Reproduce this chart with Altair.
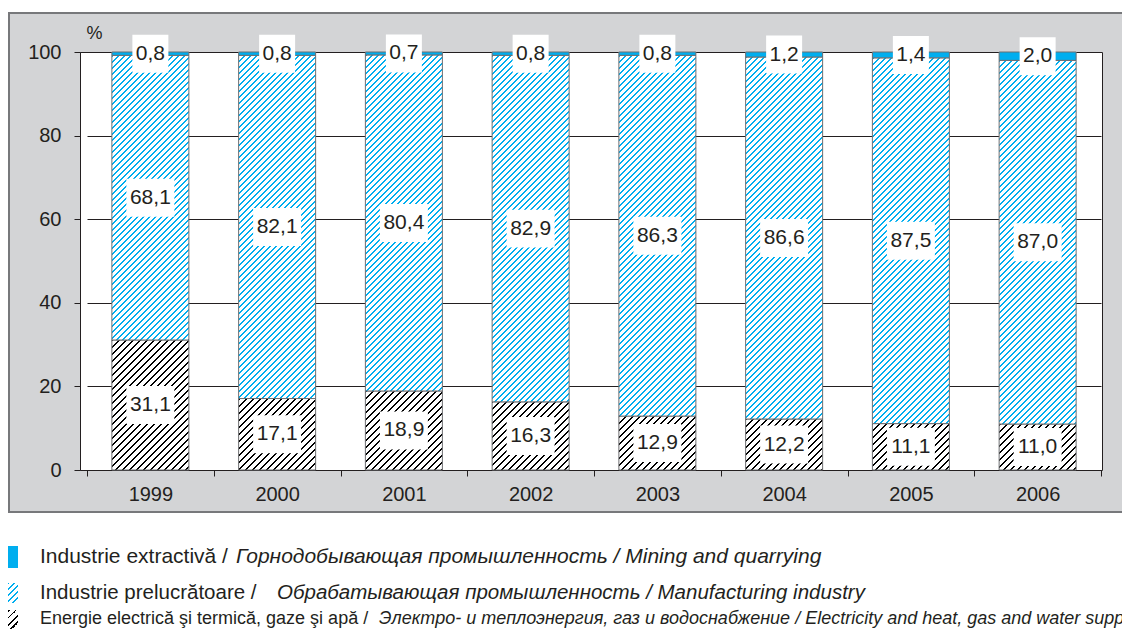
import altair as alt

# ---- data ----
years = ["1999", "2000", "2001", "2002", "2003", "2004", "2005", "2006"]
mining = [0.8, 0.8, 0.7, 0.8, 0.8, 1.2, 1.4, 2.0]
manufacturing = [68.1, 82.1, 80.4, 82.9, 86.3, 86.6, 87.5, 87.0]
energy = [31.1, 17.1, 18.9, 16.3, 12.9, 12.2, 11.1, 11.0]
y_ticks = [0, 20, 40, 60, 80, 100]
legend_ro = [
    "Industrie extractivă / ",
    "Industrie prelucrătoare / ",
    "Energie electrică şi termică, gaze şi apă / ",
]
legend_rest = [
    "Горнодобывающая промышленность / Mining and quarrying",
    "Обрабатывающая промышленность / Manufacturing industry",
    "Электро- и теплоэнергия, газ и водоснабжение / Electricity and heat, gas and water supply",
]

# ---- styling ----
W, H = 1022, 418
BAR = 77
BLUE = "#00aeef"
INK = "#231f20"
GRAY_BG = "#d3d4d6"
FONT = "Liberation Sans"


def hatch(w, h, color, period=6.0, thick=2.0, bg="white"):
    """Linear gradient with hard stops that looks like 45 degree '/' hatching."""
    L = w + h
    k = L / (w * w + h * h)
    stops = []
    n = int(L / period) + 2
    for i in range(n):
        a = min(i * period / L, 1.0)
        b = min((i * period + thick) / L, 1.0)
        c = min((i + 1) * period / L, 1.0)
        stops += [(a, color), (b, color), (b, bg), (c, bg)]
        if c >= 1.0:
            break
    return {
        "gradient": "linear",
        "x1": 0, "y1": 0, "x2": k * w, "y2": k * h,
        "stops": [{"offset": o, "color": col} for o, col in stops],
    }


def fmt(v):
    return f"{v:.1f}".replace(".", ",")


seg_records = []
lab_records = []
px = H / 100.0
for i, yr in enumerate(years):
    e, m, q = energy[i], manufacturing[i], mining[i]
    segs = [
        (0.0, e, lambda hh: hatch(BAR, hh, "#000000", period=7.0, thick=2.0), e),
        (e, e + m, lambda hh: hatch(BAR, hh, BLUE, period=6.0, thick=1.8), m),
        (e + m, e + m + q, lambda hh: BLUE, q),
    ]
    for y0, y1, gf, v in segs:
        seg_records.append({"year": yr, "y0": y0, "y1": y1, "grad": gf((y1 - y0) * px)})
        lab = fmt(v)
        box = "M-1,-0.79H1V0.79H-1Z" if len(lab) >= 4 else "M-0.75,-0.79H0.75V0.79H-0.75Z"
        lab_records.append({"year": yr, "mid": (y0 + y1) / 2, "lab": lab, "box": box})

xscale = alt.Scale(range=[7, 1021], paddingInner=0, paddingOuter=0)
yscale = alt.Scale(domain=[0, 100], nice=False)

xaxis = alt.Axis(
    title=None, labelAngle=0, labelFont=FONT, labelFontSize=20, labelColor=INK,
    labelPadding=8, tickSize=6, tickColor=INK, tickBand="extent", domain=False, grid=False,
)
yaxis = alt.Axis(
    values=y_ticks, format="d", labelFont=FONT, labelFontSize=20, labelColor=INK,
    labelPadding=13, tickSize=6, tickColor=INK, domainColor=INK, grid=True,
    gridColor=INK, gridOpacity=1, gridWidth=1,
    title="%", titleAngle=0, titleAlign="left", titleBaseline="middle",
    titleX=6, titleY=-19, titleFont=FONT, titleFontSize=18, titleFontWeight="normal",
    titleColor=INK,
)

one = alt.Data(values=[{"a": 0}])

# decorations: frame of the grey box and white areas outside it
white_top = alt.Chart(one).mark_rect(color="white").encode(
    x=alt.value(-72), x2=alt.value(1060), y=alt.value(-50), y2=alt.value(-40))
white_bottom = alt.Chart(one).mark_rect(color="white").encode(
    x=alt.value(-72), x2=alt.value(1060), y=alt.value(461), y2=alt.value(620))
border_top = alt.Chart(one).mark_rule(color="#77787b", strokeWidth=2).encode(
    x=alt.value(-72), x2=alt.value(1060), y=alt.value(-39))
border_bottom = alt.Chart(one).mark_rule(color="#77787b", strokeWidth=2).encode(
    x=alt.value(-72), x2=alt.value(1060), y=alt.value(460))
border_left = alt.Chart(one).mark_rule(color="#77787b", strokeWidth=2).encode(
    x=alt.value(-71), y=alt.value(-39), y2=alt.value(460))

bars = alt.Chart(alt.Data(values=seg_records)).mark_bar(
    size=BAR, stroke="#6d6e71", strokeWidth=1
).encode(
    x=alt.X("year:O", scale=xscale, axis=xaxis),
    y=alt.Y("y0:Q", scale=yscale, axis=yaxis),
    y2="y1:Q",
    fill=alt.Fill("grad:N", scale=None),
)

boxes = alt.Chart(alt.Data(values=lab_records)).mark_point(
    filled=True, color="white", opacity=1, strokeWidth=0, size=2304
).encode(
    x="year:O", y="mid:Q", shape=alt.Shape("box:N", scale=None)
)

labels = alt.Chart(alt.Data(values=lab_records)).mark_text(
    font=FONT, fontSize=21, color=INK, baseline="middle", align="center"
).encode(x="year:O", y="mid:Q", text="lab:N")

# manual legend
leg_y = [505, 541, 567]
sq_y = [(494, 516), (531, 551), (558, 577)]
ital_x = [156, 197, 299]
leg_size = [21, 20.5, 18]
sq_fill = [BLUE, hatch(10, 20, BLUE, 6.0, 1.8), hatch(10, 19, "#000000", 7.0, 2.0)]

legend_layers = []
for i in range(3):
    legend_layers.append(
        alt.Chart(one).mark_rect().encode(
            x=alt.value(-72), x2=alt.value(-62),
            y=alt.value(sq_y[i][0]), y2=alt.value(sq_y[i][1]),
            fill=alt.value(sq_fill[i]),
        )
    )
    legend_layers.append(
        alt.Chart(one).mark_text(
            font=FONT, fontSize=leg_size[i], color=INK, align="left", baseline="middle"
        ).encode(x=alt.value(-40), y=alt.value(leg_y[i]), text=alt.value(legend_ro[i]))
    )
    legend_layers.append(
        alt.Chart(one).mark_text(
            font=FONT, fontSize=leg_size[i], color=INK, align="left", baseline="middle",
            fontStyle="italic"
        ).encode(x=alt.value(ital_x[i]), y=alt.value(leg_y[i]), text=alt.value(legend_rest[i]))
    )

chart = alt.layer(
    white_top, white_bottom, border_top, border_bottom, border_left,
    bars, boxes, labels, *legend_layers
).properties(
    width=W, height=H,
    autosize=alt.AutoSizeParams(type="none"),
    padding={"left": 72, "top": 44, "right": 20, "bottom": 161},
    background=GRAY_BG,
).configure_view(
    fill="white", stroke=INK, strokeWidth=1
)

chart.save("out.html", embed_options={"renderer": "svg", "actions": False})
